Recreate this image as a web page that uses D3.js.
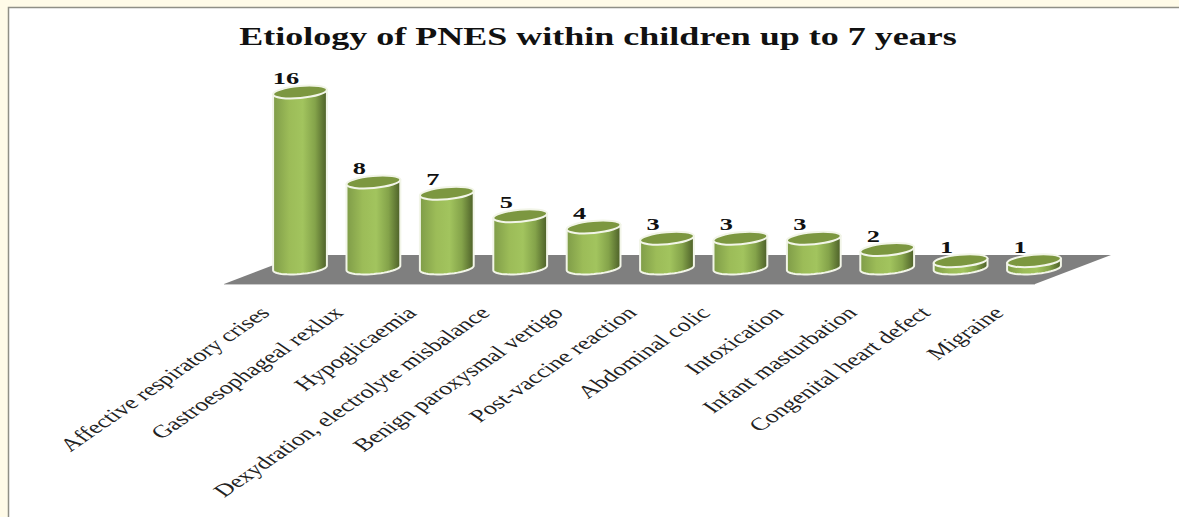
<!DOCTYPE html>
<html><head><meta charset="utf-8">
<script src="https://cdnjs.cloudflare.com/ajax/libs/d3/7.8.5/d3.min.js"></script>
<style>html,body{margin:0;padding:0;background:#fffbe8;overflow:hidden}</style>
</head><body><script>
const categories = ["Affective respiratory crises","Gastroesophageal rexlux","Hypoglicaemia","Dexydration, electrolyte misbalance","Benign paroxysmal vertigo","Post-vaccine reaction","Abdominal colic","Intoxication","Infant masturbation","Congenital heart defect","Migraine"];
const values = [16,8,7,5,4,3,3,3,2,1,1];
const titleText = "Etiology of PNES within children up to 7 years";
const W=1179,H=517;
const svg=d3.select("body").append("svg").attr("width",W).attr("height",H).style("display","block");
const defs=svg.append("defs");
const g=defs.append("linearGradient").attr("id","cyl");
[[0,"#7f9c48"],[0.3,"#9cbc58"],[0.55,"#a2c45e"],[0.78,"#84a34a"],[1,"#4c5f28"]].forEach(d=>g.append("stop").attr("offset",d[0]).attr("stop-color",d[1]));
svg.append("rect").attr("x",8.5).attr("y",7.5).attr("width",1182).attr("height",520).attr("fill","#fff").attr("stroke","#8f8f86").attr("stroke-width",1.5);
const x=d3.scalePoint().domain(categories).range([300,1034]);
const y=d3.scaleLinear().domain([0,16]).range([272,92]);
const rx=27,ry=6,tilt=-5,baseY=268;
svg.append("polygon").attr("points","224,284 300,255 1111,255 1035,284").attr("fill","#7f7f7f");
svg.append("line").attr("x1",224).attr("y1",284.5).attr("x2",1035).attr("y2",284.5).attr("stroke","#c9c9c9").attr("stroke-width",1);
svg.append("text").attr("transform","translate(598,45) scale(1.47,1)").attr("text-anchor","middle")
 .attr("font-family","Liberation Serif").attr("font-weight","bold").attr("font-size",24.5).attr("fill","#111").text(titleText);
const a=tilt*Math.PI/180;
const ex=(c,cy,t)=>[c+rx*Math.cos(t)*Math.cos(a)-ry*Math.sin(t)*Math.sin(a), cy+rx*Math.cos(t)*Math.sin(a)+ry*Math.sin(t)*Math.cos(a)];
const steps=d3.range(0,25).map(i=>Math.PI*i/24);
const bars=svg.selectAll("g.bar").data(categories.map((c,i)=>({c,v:values[i]}))).join("g").attr("class","bar");
bars.append("path").attr("fill","url(#cyl)").attr("stroke","#f2f5e8").attr("stroke-width",2).attr("stroke-linejoin","round")
 .attr("d",d=>{const c=x(d.c),t=y(d.v);
  const pts=steps.map(s=>ex(c,baseY,s));
  return d3.line()([ex(c,t,0),...pts,ex(c,t,Math.PI)])+"Z";});
bars.append("ellipse").attr("cx",0).attr("cy",0).attr("rx",rx).attr("ry",ry)
 .attr("transform",d=>`translate(${x(d.c)},${y(d.v)}) rotate(${tilt})`)
 .attr("fill","#7c9740").attr("stroke","#f2f5e8").attr("stroke-width",2);
bars.append("text").attr("transform",d=>`translate(${x(d.c)-14},${y(d.v)-8}) scale(1.55,1)`).attr("text-anchor","middle")
 .attr("font-family","Liberation Serif").attr("font-weight","bold").attr("font-size",17).attr("fill","#111").text(d=>d.v);
svg.selectAll("text.cat").data(categories).join("text").attr("class","cat")
 .attr("transform",d=>`translate(${x(d)-29},${314}) scale(1.45,1) rotate(-45)`).attr("text-anchor","end")
 .attr("font-family","Liberation Serif").attr("font-size",18).attr("fill","#222").text(d=>d);
</script></body></html>
